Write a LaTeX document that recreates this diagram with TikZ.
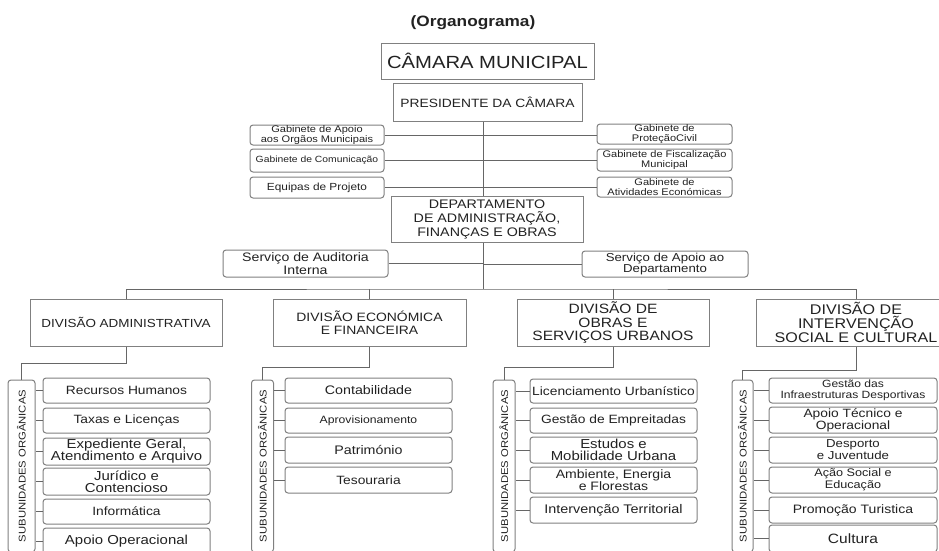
\documentclass[tikz,border=0pt]{standalone}
\usepackage{fontspec}
\setmainfont[FakeStretch=1.15]{Liberation Sans}
\usetikzlibrary{calc}
\definecolor{ln}{HTML}{666666}
\definecolor{bd}{HTML}{808080}
\definecolor{tx}{HTML}{222222}
\newcommand\fsz[2]{\fontsize{#1}{#2}\selectfont\lineskiplimit=-20pt\relax}
\tikzset{
  every node/.style={text=tx, align=center, inner sep=0pt},
  mainbox/.style={draw=bd, line width=1pt, fill=white},
  rbox/.style={draw=bd, line width=1pt, fill=white, rounded corners=3pt},
  gab/.style={rbox, font=\fsz{9.6}{10}},
  subbox/.style={rbox, minimum width=167, font=\fsz{12}{12}},
  divbox/.style={mainbox, minimum width=192, minimum height=47},
  unitbox/.style={rbox, rotate=90, minimum width=172, font=\fsz{9.8}{10}},
  conn/.style={draw=ln, line width=1pt},
}
\begin{document}
\begin{tikzpicture}[x=1pt,y=-1pt]
\useasboundingbox (0,0) rectangle (939,550);
\clip (0,0) rectangle (939,550);
\fill[white] (0,0) rectangle (939,550);

% top
\node[font=\bfseries\fsz{15}{18}] (title) at (473,23) {(Organograma)};
\node[mainbox, minimum width=213, minimum height=36, font=\fsz{17.6}{20}] (cam) at (487.5,61) {CÂMARA MUNICIPAL};
\node[mainbox, minimum width=189, minimum height=38, font=\fsz{12}{14}] (pres) at (487.5,102) {PRESIDENTE DA CÂMARA};

% gabinetes
\node[gab, minimum width=134, minimum height=20] (g1) at (317,135) {Gabinete de Apoio\\aos Orgãos Municipais};
\node[gab, minimum width=134, minimum height=23, font=\fsz{9}{10}] (g2) at (317,160.5) {Gabinete de Comunicação};
\node[gab, minimum width=134, minimum height=21, font=\fsz{10.3}{11}] (g3) at (317,187.5) {Equipas de Projeto};
\node[gab, minimum width=135, minimum height=20] (r1) at (664.5,134) {Gabinete de\\ProteçãoCivil};
\node[gab, minimum width=135, minimum height=22] (r2) at (664.5,160) {Gabinete de Fiscalização\\Municipal};
\node[gab, minimum width=135, minimum height=20] (r3) at (664.5,187) {Gabinete de\\Atividades Económicas};

\node[mainbox, minimum width=192, minimum height=46, font=\fsz{12.4}{14}] (dep) at (487,219) {DEPARTAMENTO\\DE ADMINISTRAÇÃO,\\FINANÇAS E OBRAS};

\node[rbox, minimum width=165, minimum height=27, font=\fsz{12.3}{13.5}] (aud) at (305.5,263.5) {Serviço de Auditoria\\Interna};
\node[rbox, minimum width=166, minimum height=26, font=\fsz{11.5}{11.5}] (apd) at (665,264) {Serviço de Apoio ao\\Departamento};

\coordinate (sp) at (483,0);
\coordinate (bus) at (483,289);

% spine and side connectors
\draw[conn] (pres.south -| sp) -- (dep.north -| sp);
\draw[conn] (dep.south -| sp) -- (bus);
\draw[conn] (g1.east) -- (g1.east -| r1.west);
\draw[conn] (g2.east) -- (g2.east -| r2.west);
\draw[conn] (g3.east) -- (g3.east -| r3.west);
\draw[conn] (aud.east) -- (aud.east -| sp);
\draw[conn] (apd.west) -- (apd.west -| sp);

% divisions
\node[divbox, font=\fsz{11.7}{13}] (da) at (126,322.5) {DIVISÃO ADMINISTRATIVA};
\node[divbox, minimum width=193, font=\fsz{12.1}{13}] (db) at (369.5,322.5) {DIVISÃO ECONÓMICA\\E FINANCEIRA};
\node[divbox, font=\fsz{13.5}{13.6}] (dc) at (613,322.5) {DIVISÃO DE\\OBRAS E\\SERVIÇOS URBANOS};
\node[divbox, minimum width=200, font=\fsz{14}{13.6}] (dd) at (856,322.5) {DIVISÃO DE\\INTERVENÇÃO\\SOCIAL E CULTURAL};

\draw[conn] (da.north) |- (bus) -| (dd.north);
\draw[conn] (db.north) -- (db.north |- bus);
\draw[conn] (dc.north) -- (dc.north |- bus);

% subunidades boxes
\node[unitbox, minimum height=27] (sa) at (21.5,466) {SUBUNIDADES ORGÂNICAS};
\node[unitbox, minimum height=22] (sb) at (262.5,466) {SUBUNIDADES ORGÂNICAS};
\node[unitbox, minimum height=22] (sc) at (504,466) {SUBUNIDADES ORGÂNICAS};
\node[unitbox, minimum height=21] (sd) at (742.5,466) {SUBUNIDADES ORGÂNICAS};

\draw[conn] (da.south) -- ++(0,17) -| (sa.east);
\draw[conn] (db.south) -- ++(0,21) -| (sb.east);
\draw[conn] (dc.south) -- ++(0,21) -| (sc.east);
\draw[conn] (dd.south) -- ++(0,24) -| (sd.east);

% administrativa
\node[subbox, minimum height=25] (a1) at (126.5,390.5) {Recursos Humanos};
\node[subbox, minimum height=25] (a2) at (126.5,420.5) {Taxas e Licenças};
\node[subbox, minimum height=27, font=\fsz{13}{12}] (a3) at (126.5,451.5) {Expediente Geral,\\Atendimento e Arquivo};
\node[subbox, minimum height=27, font=\fsz{13}{12}] (a4) at (126.5,481.5) {Jurídico e\\Contencioso};
\node[subbox, minimum height=25] (a5) at (126.5,511.5) {Informática};
\node[subbox, minimum height=27, font=\fsz{13}{12}] (a6) at (126.5,541.5) {Apoio Operacional};

% economica
\node[subbox, minimum height=25, font=\fsz{12.4}{12}] (b1) at (368.5,390.5) {Contabilidade};
\node[subbox, minimum height=25, font=\fsz{10.6}{12}] (b2) at (368.5,420.5) {Aprovisionamento};
\node[subbox, minimum height=26, font=\fsz{12.4}{12}] (b3) at (368.5,450) {Património};
\node[subbox, minimum height=26] (b4) at (368.5,480) {Tesouraria};

% obras
\node[subbox, minimum height=24] (c1) at (613.5,391) {Licenciamento Urbanístico};
\node[subbox, minimum height=25] (c2) at (613.5,420.5) {Gestão de Empreitadas};
\node[subbox, minimum height=26, font=\fsz{13}{12}] (c3) at (613.5,450) {Estudos e\\Mobilidade Urbana};
\node[subbox, minimum height=26, font=\fsz{12.2}{12}] (c4) at (613.5,480) {Ambiente, Energia\\e Florestas};
\node[subbox, minimum height=26, font=\fsz{12.5}{12}] (c5) at (613.5,510) {Intervenção Territorial};

% intervencao
\node[subbox, minimum width=168, minimum height=25, font=\fsz{10.5}{11}] (d1) at (853,390.5) {Gestão das\\Infraestruturas Desportivas};
\node[subbox, minimum width=168, minimum height=26] (d2) at (853,420) {Apoio Técnico e\\Operacional};
\node[subbox, minimum width=168, minimum height=26, font=\fsz{11.5}{12}] (d3) at (853,450) {Desporto\\e Juventude};
\node[subbox, minimum width=168, minimum height=26, font=\fsz{11}{12}] (d4) at (853,480) {Ação Social e\\Educação};
\node[subbox, minimum width=168, minimum height=26, font=\fsz{12.2}{12}] (d5) at (853,510) {Promoção Turistica};
\node[subbox, minimum width=168, minimum height=27, font=\fsz{13.5}{12}] (d6) at (853,538.5) {Cultura};

% ticks
\foreach \n in {a1,a2,a3,a4,a5,a6} {\draw[conn] (\n.west) -- (\n.west -| sa.south);}
\foreach \n in {b1,b2,b3,b4} {\draw[conn] (\n.west) -- (\n.west -| sb.south);}
\foreach \n in {c1,c2,c3,c4,c5} {\draw[conn] (\n.west) -- (\n.west -| sc.south);}
\foreach \n in {d1,d2,d3,d4,d5,d6} {\draw[conn] (\n.west) -- (\n.west -| sd.south);}
\end{tikzpicture}
\end{document}
